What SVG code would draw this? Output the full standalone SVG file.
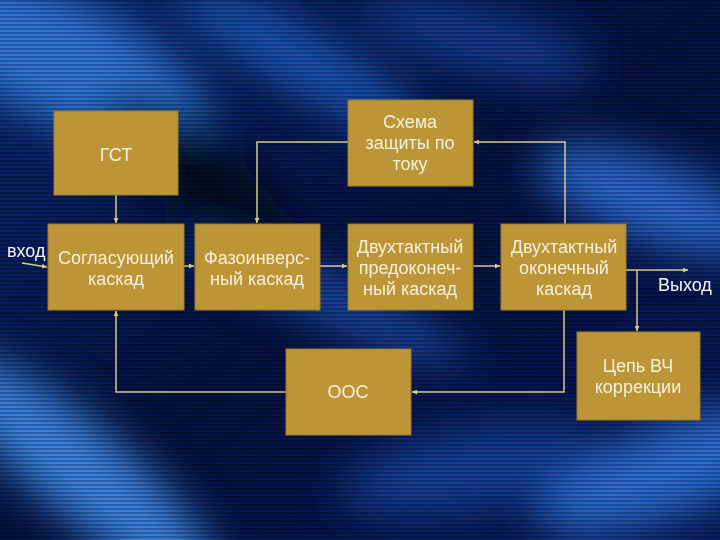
<svg xmlns="http://www.w3.org/2000/svg" width="720" height="540" viewBox="0 0 720 540">
<defs>
<style>
.box{fill:#bc9536;stroke:#9c7a2c;stroke-width:1}
.t{font-family:"Liberation Sans",Arial,sans-serif;font-size:18px;fill:#f6f0dc;text-anchor:middle}
.io{font-family:"Liberation Sans",Arial,sans-serif;font-size:18px;fill:#f4f6ff}
.c{fill:none;stroke:#d6c98e;stroke-width:1.5}
</style>
<marker id="a" viewBox="0 0 6 6" refX="6" refY="3" markerWidth="5" markerHeight="5" orient="auto" markerUnits="userSpaceOnUse">
<path d="M0,0 L6,3 L0,6 z" fill="#d6c98e"/>
</marker>
<filter id="bl" x="-50%" y="-50%" width="200%" height="200%"><feGaussianBlur stdDeviation="22"/></filter>
<pattern id="scan" width="4" height="4" patternUnits="userSpaceOnUse"><rect width="4" height="2" fill="#000" opacity="0.25"/></pattern>
<linearGradient id="bg" x1="0" y1="0" x2="1" y2="1">
<stop offset="0" stop-color="#0a2878"/><stop offset="0.5" stop-color="#051240"/><stop offset="1" stop-color="#081a5e"/>
</linearGradient>
</defs>
<g id="background">
<rect width="720" height="540" fill="url(#bg)"/>
<g filter="url(#bl)">
<ellipse cx="60" cy="60" rx="160" ry="60" fill="#2f78e0" transform="rotate(25 60 60)"/>
<ellipse cx="300" cy="60" rx="140" ry="30" fill="#1e58c0" transform="rotate(30 300 60)"/>
<ellipse cx="80" cy="470" rx="170" ry="45" fill="#3a86e8" transform="rotate(40 80 470)"/>
<ellipse cx="330" cy="300" rx="150" ry="25" fill="#1a4cb0" transform="rotate(25 330 300)"/>
<ellipse cx="650" cy="200" rx="120" ry="40" fill="#2a6ad8" transform="rotate(20 650 200)"/>
<ellipse cx="670" cy="470" rx="140" ry="45" fill="#2a70dc" transform="rotate(-20 670 470)"/>
<ellipse cx="480" cy="40" rx="120" ry="30" fill="#163e9c" transform="rotate(15 480 40)"/>
<ellipse cx="200" cy="180" rx="120" ry="40" fill="#02081f" transform="rotate(40 200 180)"/>
<ellipse cx="470" cy="470" rx="130" ry="40" fill="#1440a0" transform="rotate(-10 470 470)"/>
</g>
<rect width="720" height="540" fill="url(#scan)"/>
</g>
<g id="connectors">
<path class="c" d="M116,195 V223" marker-end="url(#a)"/>
<path class="c" d="M22,263 L47,267" marker-end="url(#a)"/>
<path class="c" d="M184,266 H194" marker-end="url(#a)"/>
<path class="c" d="M320,266 H347" marker-end="url(#a)"/>
<path class="c" d="M473,266 H500" marker-end="url(#a)"/>
<path class="c" d="M626,270 H688" marker-end="url(#a)"/>
<path class="c" d="M637,270 V331" marker-end="url(#a)"/>
<path class="c" d="M564,310 V392 H412" marker-end="url(#a)"/>
<path class="c" d="M286,392 H116 V311" marker-end="url(#a)"/>
<path class="c" d="M348,142 H257 V223" marker-end="url(#a)"/>
<path class="c" d="M565,224 V142 H474" marker-end="url(#a)"/>
</g>
<g id="n-gst"><rect class="box" x="54" y="111" width="124" height="84"/><text class="t" x="116" y="161">ГСТ</text></g>
<g id="n-match"><rect class="box" x="48" y="224" width="136" height="86"/><text class="t" x="116" y="264">Согласующий</text><text class="t" x="116" y="285">каскад</text></g>
<g id="n-phase"><rect class="box" x="195" y="224" width="125" height="86"/><text class="t" x="257" y="264">Фазоинверс-</text><text class="t" x="257" y="285">ный каскад</text></g>
<g id="n-prot"><rect class="box" x="348" y="100" width="125" height="86"/><text class="t" x="410" y="128">Схема</text><text class="t" x="410" y="149">защиты по</text><text class="t" x="410" y="170">току</text></g>
<g id="n-pre"><rect class="box" x="348" y="224" width="125" height="86"/><text class="t" x="410" y="253">Двухтактный</text><text class="t" x="410" y="274">предоконеч-</text><text class="t" x="410" y="295">ный каскад</text></g>
<g id="n-out"><rect class="box" x="501" y="224" width="125" height="86"/><text class="t" x="564" y="253">Двухтактный</text><text class="t" x="564" y="274">оконечный</text><text class="t" x="564" y="295">каскад</text></g>
<g id="n-oos"><rect class="box" x="286" y="349" width="125" height="86"/><text class="t" x="348" y="398">ООС</text></g>
<g id="n-hf"><rect class="box" x="577" y="332" width="123" height="88"/><text class="t" x="638" y="372">Цепь ВЧ</text><text class="t" x="638" y="393">коррекции</text></g>
<g id="labels">
<text class="io" x="7" y="257">вход</text>
<text class="io" x="658" y="291">Выход</text>
</g>
</svg>
